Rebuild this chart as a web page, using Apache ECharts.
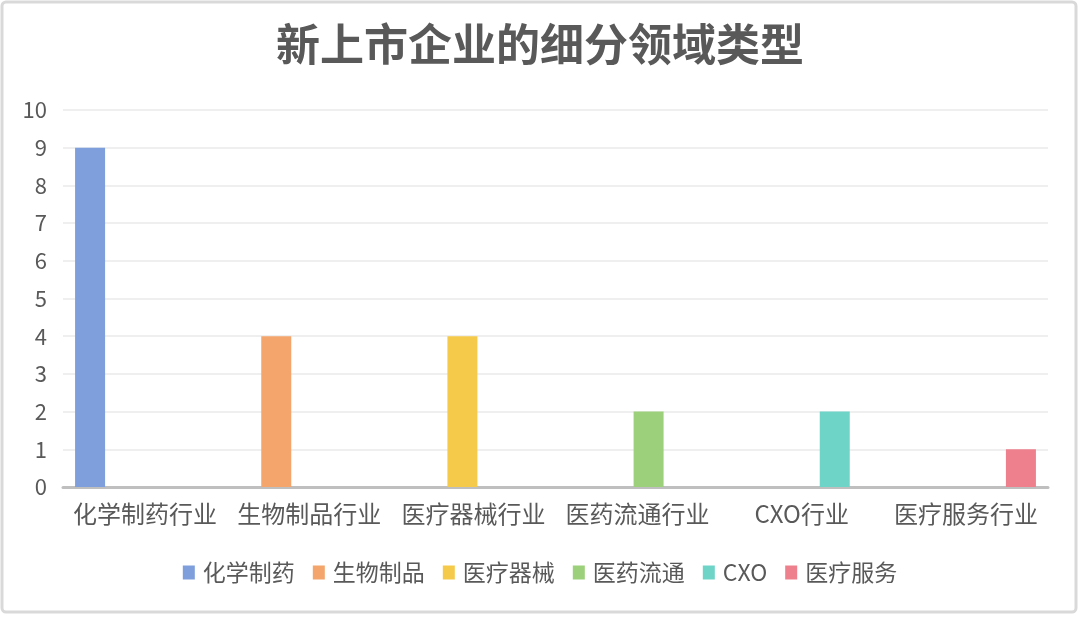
<!DOCTYPE html>
<html>
<head>
<meta charset="utf-8">
<script src="https://cdn.jsdelivr.net/npm/echarts@6/dist/echarts.min.js"></script>
<style>
  html, body { margin: 0; padding: 0; background: #ffffff; }
  #chart { width: 1080px; height: 618px; }
</style>
</head>
<body>
<div id="chart"></div>
<script>
// Industry categories on the x axis
var categories = ['化学制药行业', '生物制品行业', '医疗器械行业', '医药流通行业', 'CXO行业', '医疗服务行业'];
// Legend / series names
var seriesNames = ['化学制药', '生物制品', '医疗器械', '医药流通', 'CXO', '医疗服务'];
// Number of newly listed companies per sub-sector (one value per series, in its own category)
var chemPharma = [9, '-', '-', '-', '-', '-'];
var biologics = ['-', 4, '-', '-', '-', '-'];
var devices = ['-', '-', 4, '-', '-', '-'];
var distribution = ['-', '-', '-', 2, '-', '-'];
var cxo = ['-', '-', '-', '-', 2, '-'];
var medServices = ['-', '-', '-', '-', '-', 1];
var seriesData = [chemPharma, biologics, devices, distribution, cxo, medServices];
var colors = ['#7e9fdc', '#f3a56c', '#f5ca4a', '#9dd07a', '#6ed4c8', '#ee7f8c'];
var yTicks = { min: 0, max: 10, interval: 1 };

var FONT = "'Noto Sans CJK SC', 'Noto Sans', sans-serif";
var TEXT = '#595959';

var chart = echarts.init(document.getElementById('chart'), null, { renderer: 'canvas' });

var series = seriesNames.map(function (name, i) {
  return {
    name: name,
    type: 'bar',
    data: seriesData[i],
    barWidth: 30,
    barGap: '-26.67%',
    itemStyle: { color: colors[i] },
    emphasis: { disabled: true }
  };
});

chart.setOption({
  animation: false,
  backgroundColor: '#ffffff',
  textStyle: { fontFamily: FONT },
  title: {
    text: '新上市企业的细分领域类型',
    left: 'center',
    top: 17,
    textStyle: { fontSize: 44, fontWeight: 'bold', color: TEXT, fontFamily: FONT }
  },
  grid: { left: 63, right: 32, top: 110, bottom: 131, containLabel: false },
  legend: {
    data: seriesNames,
    bottom: 29,
    left: 'center',
    icon: 'rect',
    itemWidth: 12,
    itemHeight: 14,
    itemGap: 18,
    textStyle: { fontSize: 23, color: TEXT, fontFamily: FONT, padding: [0, 0, 0, 3] }
  },
  xAxis: {
    type: 'category',
    data: categories,
    axisTick: { show: false },
    axisLine: { lineStyle: { color: '#bfbfbf', width: 3 } },
    axisLabel: { fontSize: 24, color: TEXT, margin: 15, fontFamily: FONT, interval: 0 }
  },
  yAxis: {
    type: 'value',
    min: yTicks.min,
    max: yTicks.max,
    interval: yTicks.interval,
    axisLine: { show: false },
    axisTick: { show: false },
    axisLabel: { fontSize: 22, color: TEXT, margin: 16, fontFamily: FONT },
    splitLine: { lineStyle: { color: '#efefef', width: 2 } }
  },
  graphic: [{
    type: 'rect',
    shape: { x: 2, y: 2, width: 1074, height: 610, r: 4 },
    style: { fill: 'none', stroke: '#d9d9d9', lineWidth: 3 },
    silent: true,
    z: 100
  }],
  series: series
});
</script>
</body>
</html>
